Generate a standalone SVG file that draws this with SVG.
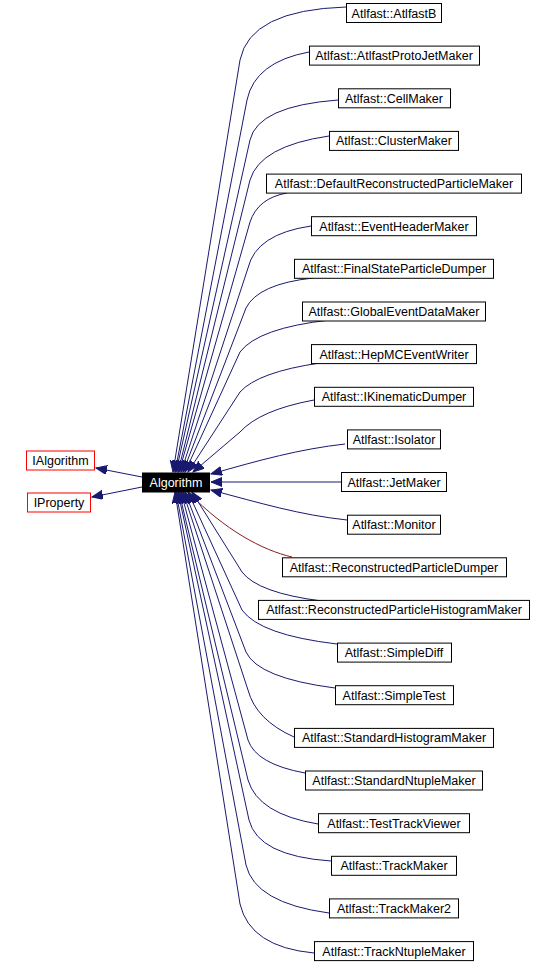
<svg xmlns="http://www.w3.org/2000/svg" width="556" height="963" viewBox="0 0 556 963">
<style>
.bg{fill:#ffffff}
.n rect{fill:#ffffff;stroke:#000000;stroke-width:1}
.n text{font-family:"Liberation Sans",Arial,sans-serif;font-size:12.5px;fill:#000000;text-anchor:middle}
.r rect{stroke:#ff0000}
.main rect{fill:#000000;stroke:#000000}
.main text{fill:#ffffff}
.e path{fill:none;stroke:#191970;stroke-width:1;marker-end:url(#ab)}
.e path.priv{stroke:#8b1a1a;marker-end:url(#ar)}
</style>
<defs>
<marker id="ab" markerUnits="userSpaceOnUse" markerWidth="12" markerHeight="10" refX="11" refY="4.5" orient="auto"><path d="M0,0 L11,4.5 L0,9 Z" fill="#191970" stroke="#191970" stroke-width="1"/></marker>
<marker id="ar" markerUnits="userSpaceOnUse" markerWidth="12" markerHeight="10" refX="11" refY="4.5" orient="auto"><path d="M0,0 L11,4.5 L0,9 Z" fill="#8b1a1a" stroke="#8b1a1a" stroke-width="1"/></marker>
</defs>
<rect class="bg" x="0" y="0" width="556" height="963"/>
<g id="connectors" class="e">
<path d="M142,477 L96,468"/>
<path d="M142,487 L92,497"/>
<path d="M346,7 Q250,10 240,60 L173,472"/>
<path d="M309,52 Q255,62 247,100 L175,472"/>
<path d="M338,100 Q258,106 250,140 L176,472"/>
<path d="M329,136 Q260,146 250,180 L178,472"/>
<path d="M287,193 Q258,198 250,222 L179,472"/>
<path d="M311,226 Q256,234 248,268 L181,472"/>
<path d="M313,278 Q258,284 246,308 L183,472"/>
<path d="M330,320 Q258,328 240,352 L185,472"/>
<path d="M320,363 Q258,372 240,392 L188,472"/>
<path d="M314,400 Q260,410 240,432 L193,472"/>
<path d="M345,444 C300,449 260,460 211,474"/>
<path d="M341,482 L211,482"/>
<path d="M347,520 C300,515 260,503 211,490"/>
<path class="priv" d="M292,557 C262,550 225,530 189,493"/>
<path d="M322,601 Q258,593 242,572 L192,492"/>
<path d="M337,644 Q260,635 242,610 L188,492"/>
<path d="M335,688 Q258,678 246,652 L185,492"/>
<path d="M294,737 Q256,720 248,690 L183,492"/>
<path d="M305,773 Q256,764 248,740 L181,492"/>
<path d="M318,824 Q258,814 248,780 L179,492"/>
<path d="M331,861 Q258,856 249,820 L178,492"/>
<path d="M329,913 Q255,903 246,865 L176,492"/>
<path d="M314,953 Q250,947 240,904 L175,492"/>
</g>
<g id="node-Algorithm" class="n main"><rect x="142.5" y="473" width="67" height="19"/><text x="176" y="487">Algorithm</text></g>
<g id="node-IAlgorithm" class="n r"><rect x="26.5" y="451" width="68" height="19"/><text x="60.5" y="465">IAlgorithm</text></g>
<g id="node-IProperty" class="n r"><rect x="27.5" y="493" width="63" height="19"/><text x="59" y="507">IProperty</text></g>
<g id="node-AtlfastB" class="n"><rect x="346.5" y="3.5" width="95" height="19"/><text x="394" y="17.5">Atlfast::AtlfastB</text></g>
<g id="node-AtlfastProtoJetMaker" class="n"><rect x="309.5" y="46.1" width="170" height="19"/><text x="394" y="60.1">Atlfast::AtlfastProtoJetMaker</text></g>
<g id="node-CellMaker" class="n"><rect x="338.5" y="88.8" width="112" height="19"/><text x="394" y="102.8">Atlfast::CellMaker</text></g>
<g id="node-ClusterMaker" class="n"><rect x="329.5" y="131.4" width="129" height="19"/><text x="394" y="145.4">Atlfast::ClusterMaker</text></g>
<g id="node-DefaultReconstructedParticleMaker" class="n"><rect x="266.5" y="174.1" width="255" height="19"/><text x="394" y="188.1">Atlfast::DefaultReconstructedParticleMaker</text></g>
<g id="node-EventHeaderMaker" class="n"><rect x="311.5" y="216.7" width="165" height="19"/><text x="394" y="230.7">Atlfast::EventHeaderMaker</text></g>
<g id="node-FinalStateParticleDumper" class="n"><rect x="294.5" y="259.3" width="199" height="19"/><text x="394" y="273.3">Atlfast::FinalStateParticleDumper</text></g>
<g id="node-GlobalEventDataMaker" class="n"><rect x="302.5" y="302" width="183" height="19"/><text x="394" y="316">Atlfast::GlobalEventDataMaker</text></g>
<g id="node-HepMCEventWriter" class="n"><rect x="311.5" y="344.6" width="165" height="19"/><text x="394" y="358.6">Atlfast::HepMCEventWriter</text></g>
<g id="node-IKinematicDumper" class="n"><rect x="314.5" y="387.3" width="159" height="19"/><text x="394" y="401.3">Atlfast::IKinematicDumper</text></g>
<g id="node-Isolator" class="n"><rect x="347.5" y="429.9" width="93" height="19"/><text x="394" y="443.9">Atlfast::Isolator</text></g>
<g id="node-JetMaker" class="n"><rect x="341.5" y="472.5" width="105" height="19"/><text x="394" y="486.5">Atlfast::JetMaker</text></g>
<g id="node-Monitor" class="n"><rect x="347.5" y="515.2" width="93" height="19"/><text x="394" y="529.2">Atlfast::Monitor</text></g>
<g id="node-ReconstructedParticleDumper" class="n"><rect x="282.5" y="557.8" width="224" height="19"/><text x="394" y="571.8">Atlfast::ReconstructedParticleDumper</text></g>
<g id="node-ReconstructedParticleHistogramMaker" class="n"><rect x="258.5" y="600.4" width="271" height="19"/><text x="394" y="614.4">Atlfast::ReconstructedParticleHistogramMaker</text></g>
<g id="node-SimpleDiff" class="n"><rect x="337.5" y="643.1" width="114" height="19"/><text x="394" y="657.1">Atlfast::SimpleDiff</text></g>
<g id="node-SimpleTest" class="n"><rect x="335.5" y="685.7" width="118" height="19"/><text x="394" y="699.7">Atlfast::SimpleTest</text></g>
<g id="node-StandardHistogramMaker" class="n"><rect x="294.5" y="728.4" width="199" height="19"/><text x="394" y="742.4">Atlfast::StandardHistogramMaker</text></g>
<g id="node-StandardNtupleMaker" class="n"><rect x="305.5" y="771" width="177" height="19"/><text x="394" y="785">Atlfast::StandardNtupleMaker</text></g>
<g id="node-TestTrackViewer" class="n"><rect x="318.5" y="813.7" width="151" height="19"/><text x="394" y="827.7">Atlfast::TestTrackViewer</text></g>
<g id="node-TrackMaker" class="n"><rect x="331.5" y="856.3" width="125" height="19"/><text x="394" y="870.3">Atlfast::TrackMaker</text></g>
<g id="node-TrackMaker2" class="n"><rect x="329.5" y="898.9" width="129" height="19"/><text x="394" y="912.9">Atlfast::TrackMaker2</text></g>
<g id="node-TrackNtupleMaker" class="n"><rect x="314.5" y="941.6" width="159" height="19"/><text x="394" y="955.6">Atlfast::TrackNtupleMaker</text></g>
</svg>
